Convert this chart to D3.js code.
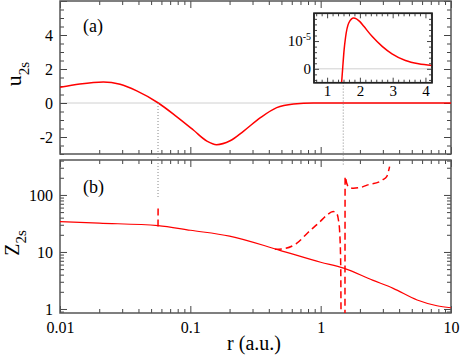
<!DOCTYPE html>
<html lang="en">
<head>
<meta charset="UTF-8">
<title>u2s and Z2s</title>
<script src="https://cdn.jsdelivr.net/npm/d3@7"></script>
<style>
  body { margin: 0; background: #fff; }
  .frame { fill: none; stroke: #555; stroke-width: 1.5; }
  .inset-frame { fill: #fff; stroke: #222; stroke-width: 1.5; }
  .zero { stroke: #d0d0d0; stroke-width: 1; }
  .node { stroke: #888; stroke-width: 1; stroke-dasharray: 1,2; fill: none; }
  .curve { fill: none; stroke: #ff0000; stroke-width: 1.5; }
  .dashed { stroke-dasharray: 7,4; }
</style>
</head>
<body>
<svg id="chart" width="461" height="355"></svg>
<script>
// panel (a): u_2s(r)
let uR   = [0.01, 0.0142, 0.0215, 0.0289, 0.0388, 0.0568, 0.0784, 0.1055, 0.134, 0.159, 0.202, 0.2565, 0.345, 0.46, 0.62, 0.88, 1.5, 3, 10];
let uVal = [0.92, 1.12, 1.24, 1.10, 0.71, 0, -0.80, -1.59, -2.24, -2.45, -2.22, -1.65, -0.86, -0.27, -0.06, 0, 0, 0, 0];

// inset: u_2s near the outer node, in units of 1e-5
let insetR = [1.43, 1.476, 1.52, 1.56, 1.66, 1.81, 2.0, 2.12, 2.37, 2.68, 2.98, 3.39, 3.79, 4.2];
let insetU = [-0.7, 0.04, 0.7, 1.11, 1.65, 1.83, 1.70, 1.53, 1.17, 0.81, 0.54, 0.30, 0.18, 0.12];

// panel (b): Z_2s(r), solid
let zR   = [0.01, 0.02, 0.0565, 0.1, 0.2, 0.48, 1.0, 1.5, 2.5, 3.6, 5.5, 7.8, 10];
let zVal = [34, 32, 29, 24, 19, 10.8, 6.6, 5.2, 3.2, 2.3, 1.44, 1.14, 1.05];

// panel (b): dashed branches
let zDashR1 = [0.445, 0.53, 0.65, 0.8, 0.99, 1.1, 1.25, 1.33, 1.37, 1.40, 1.425, 1.435];
let zDashV1 = [11.1, 11.5, 14, 22, 34, 43, 51, 47, 36, 22, 6, 0.3];
let zDashR2 = [1.536, 1.540, 1.585, 1.63, 1.78, 2.12, 2.3, 2.83, 3.0, 3.21, 3.38];
let zDashV2 = [0.3, 210, 160, 140, 131, 140, 150, 171, 185, 210, 314];
let zSpikeR = [0.0565, 0.0566];
let zSpikeV = [28, 62];

// nodes of u_2s, joined by dotted lines
let nodeR = [0.0565, 1.49];
let nodeUTop = [0, 1.2];
let nodeZBottom = [92, 320];

// ticks
let xMajor = [0.01, 0.1, 1, 10];
let xTickLabels = ['0.01', '0.1', '1', '10'];
let xMinor = [];
[0.01, 0.1, 1].forEach(d => { for (let k = 2; k <= 9; k++) xMinor.push(d * k); });
let uMajor = [-2, 0, 2, 4];
let uMinor = d3.range(-3, 6.01, 0.5).filter(d => d % 2 !== 0);
let zMajor = [1, 10, 100];
let zTickLabels = ['1', '10', '100'];
let zMinor = [0.9, 2, 3, 4, 5, 6, 7, 8, 9, 20, 30, 40, 50, 60, 70, 80, 90, 200, 300, 400];
let iXMajor = [1, 2, 3, 4];
let iXMinor = d3.range(0, 30).map(i => 0.5 + i / 6).filter(d => d > 0.6 && d < 4.2 && Math.abs(d - Math.round(d)) > 0.01);
let iYMajor = [0, 1];
let iYMinor = [-0.4, -0.2, 0.2, 0.4, 0.6, 0.8, 1.2, 1.4, 1.6, 1.8];

const FONT = '"Liberation Serif", "Times New Roman", Times, serif';

let svg = d3.select('#chart').style('font-family', FONT);

let x = d3.scaleLog().domain([0.01, 10]).range([60, 451]);
let yA = d3.scaleLinear().domain([-3, 6]).range([154, 1]);
let yB = d3.scaleLog().domain([0.85, 410]).range([313, 160]);
let xI = d3.scaleLinear().domain([0.6, 4.2]).range([314, 432]);
let yI = d3.scaleLinear().domain([-0.5, 2.0]).range([82.7, 13.3]);

let defs = svg.append('defs');
defs.append('clipPath').attr('id', 'clipA').append('rect')
    .attr('x', 60).attr('y', 1).attr('width', 391).attr('height', 153);
defs.append('clipPath').attr('id', 'clipB').append('rect')
    .attr('x', 60).attr('y', 160).attr('width', 391).attr('height', 153);
defs.append('clipPath').attr('id', 'clipI').append('rect')
    .attr('x', 314).attr('y', 13.3).attr('width', 118).attr('height', 69.4);

function addAxis(gen, tx, ty, values, size, pad, labels, fontSize) {
    let g = svg.append('g').attr('transform', 'translate(' + tx + ',' + ty + ')')
        .call(gen.tickValues(values).tickSize(size).tickPadding(pad)
            .tickFormat(labels ? (d, i) => labels[i] : () => ''));
    g.select('.domain').remove();
    g.attr('font-family', FONT).attr('font-size', fontSize || 16);
    g.selectAll('text').style('font-family', FONT).attr('fill', '#000');
    g.selectAll('line').attr('stroke', '#444');
    return g;
}

// zero line (a)
svg.append('line').attr('class', 'zero')
    .attr('x1', 60).attr('x2', 451).attr('y1', yA(0)).attr('y2', yA(0));

// panel ticks
function panelTicks(yScale, yMaj, yMin, top, bottom, yLabels, xLabels) {
    addAxis(d3.axisBottom(x), 0, bottom, xMajor, -7, 9, xLabels);
    addAxis(d3.axisBottom(x), 0, bottom, xMinor, -4, 9);
    addAxis(d3.axisTop(x), 0, top, xMajor, -7, 3);
    addAxis(d3.axisTop(x), 0, top, xMinor, -4, 3);
    addAxis(d3.axisLeft(yScale), 60, 0, yMaj, -7, 7, yLabels);
    addAxis(d3.axisLeft(yScale), 60, 0, yMin, -4, 7);
    addAxis(d3.axisRight(yScale), 451, 0, yMaj, -7, 3);
    addAxis(d3.axisRight(yScale), 451, 0, yMin, -4, 3);
}
panelTicks(yA, uMajor.concat([6]), uMinor, 1, 154, uMajor.map(String).concat(['']), null);
panelTicks(yB, zMajor, zMinor, 160, 313, zTickLabels, xTickLabels);

svg.append('rect').attr('class', 'frame').attr('x', 60).attr('y', 1).attr('width', 391).attr('height', 153);
svg.append('rect').attr('class', 'frame').attr('x', 60).attr('y', 160).attr('width', 391).attr('height', 153);

// curves
let lineA = d3.line().x(d => x(d[0])).y(d => yA(d[1])).curve(d3.curveMonotoneX);
let lineB = d3.line().x(d => x(d[0])).y(d => yB(d[1])).curve(d3.curveMonotoneX);
let lineI = d3.line().x(d => xI(d[0])).y(d => yI(d[1])).curve(d3.curveMonotoneX);

svg.append('path').attr('class', 'curve').attr('clip-path', 'url(#clipA)')
    .attr('d', lineA(d3.zip(uR, uVal)));

svg.append('path').attr('class', 'curve').attr('clip-path', 'url(#clipB)')
    .style('stroke-width', 1.2)
    .attr('d', lineB(d3.zip(zR, zVal)));
[[zDashR1, zDashV1], [zDashR2, zDashV2], [zSpikeR, zSpikeV]].forEach(s => {
    svg.append('path').attr('class', 'curve dashed').attr('clip-path', 'url(#clipB)')
        .attr('d', lineB(d3.zip(s[0], s[1])));
});

// dotted node lines
nodeR.forEach((r, i) => {
    svg.append('line').attr('class', 'node')
        .attr('x1', x(r)).attr('x2', x(r))
        .attr('y1', yA(nodeUTop[i])).attr('y2', yB(nodeZBottom[i]));
});

// inset
svg.append('rect').attr('class', 'inset-frame')
    .attr('x', 314).attr('y', 13.3).attr('width', 118).attr('height', 69.4);
svg.append('line').attr('class', 'zero')
    .attr('x1', 314).attr('x2', 432).attr('y1', yI(0)).attr('y2', yI(0));
svg.append('path').attr('class', 'curve').attr('clip-path', 'url(#clipI)')
    .attr('d', lineI(d3.zip(insetR, insetU)));
addAxis(d3.axisBottom(xI), 0, 82.7, iXMajor, -5, 3, iXMajor.map(String), 15);
addAxis(d3.axisBottom(xI), 0, 82.7, iXMinor, -3, 3);
addAxis(d3.axisTop(xI), 0, 13.3, iXMajor, -5, 3);
addAxis(d3.axisTop(xI), 0, 13.3, iXMinor, -3, 3);
let iy = addAxis(d3.axisLeft(yI), 314, 0, iYMajor, -5, 3, ['0', '10'], 15);
addAxis(d3.axisLeft(yI), 314, 0, iYMinor, -3, 3);
addAxis(d3.axisRight(yI), 432, 0, iYMajor, -5, 3);
addAxis(d3.axisRight(yI), 432, 0, iYMinor, -3, 3);
iy.selectAll('text').filter(d => d === 1)
    .append('tspan').attr('font-size', 10).attr('dy', '-0.6em').text('-5');
svg.append('rect').attr('x', 314).attr('y', 13.3).attr('width', 118).attr('height', 69.4)
    .attr('fill', 'none').attr('stroke', '#222').attr('stroke-width', 1.5);

// labels
function label(txt) {
    return svg.append('text').style('font-family', FONT).attr('fill', '#000').text(txt);
}
label('(a)').attr('x', 83).attr('y', 32).attr('font-size', 18);
label('(b)').attr('x', 83).attr('y', 193).attr('font-size', 18);

let uLab = label(null).attr('transform', 'translate(21,74) rotate(-90)')
    .attr('text-anchor', 'middle').attr('font-size', 22);
uLab.append('tspan').text('u');
uLab.append('tspan').attr('font-size', 15).attr('dy', 8).text('2s');

let zLab = label(null).attr('transform', 'translate(19,243) rotate(-90)')
    .attr('text-anchor', 'middle').attr('font-size', 20);
zLab.append('tspan').text('Z');
zLab.append('tspan').attr('font-size', 15).attr('dy', 7).text('2s');

label('r (a.u.)').attr('x', 254).attr('y', 350).attr('text-anchor', 'middle')
    .attr('font-size', 20);
</script>
</body>
</html>
